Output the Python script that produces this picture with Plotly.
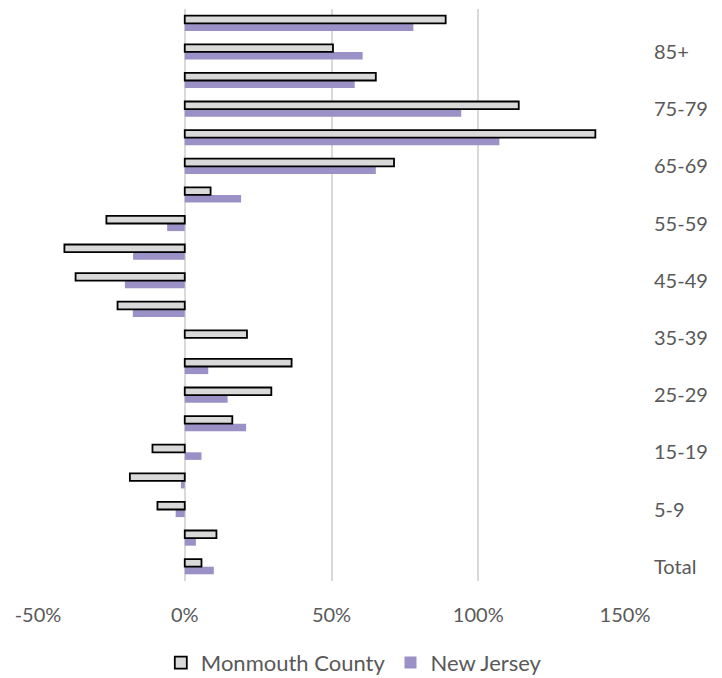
import plotly.graph_objects as go

# Age groups, bottom to top
categories = ["Total", "0-4", "5-9", "10-14", "15-19", "20-24", "25-29", "30-34",
              "35-39", "40-44", "45-49", "50-54", "55-59", "60-64", "65-69",
              "70-74", "75-79", "80-84", "85+", "65+"]

# Projected percent change by age group
monmouth = [5.7, 10.8, -9.3, -18.7, -11.0, 16.2, 29.5, 36.4,
            21.2, -22.9, -37.2, -41.0, -26.7, 8.8, 71.3,
            139.9, 113.8, 65.1, 50.5, 88.9]
new_jersey = [9.9, 3.8, -3.1, -1.3, 5.7, 20.9, 14.6, 8.0,
              0.0, -17.7, -20.4, -17.6, -6.0, 19.2, 65.1,
              107.2, 94.2, 57.9, 60.6, 77.9]

# Only every other category is labelled on the axis
shown_labels = ["Total", "5-9", "15-19", "25-29", "35-39", "45-49",
                "55-59", "65-69", "75-79", "85+"]

x_ticks = [-50, 0, 50, 100, 150]
x_tick_text = ["-50%", "0%", "50%", "100%", "150%"]

font_family = "Lato, 'Open Sans', sans-serif"
text_color = "#595959"

fig = go.Figure()
fig.add_trace(go.Bar(
    y=categories, x=new_jersey, orientation="h", name="New Jersey",
    marker=dict(color="#9B91C7", line=dict(width=0)),
    legendrank=2,
))
fig.add_trace(go.Bar(
    y=categories, x=monmouth, orientation="h", name="Monmouth County",
    marker=dict(color="#D9D9D9", line=dict(color="#000000", width=1.8)),
    legendrank=1,
))

fig.update_layout(
    width=722, height=678,
    margin=dict(l=38, r=97, t=9, b=97, autoexpand=False),
    paper_bgcolor="white", plot_bgcolor="white",
    barmode="group", bargap=0.47, bargroupgap=0.0,
    font=dict(family=font_family, size=20, color=text_color),
    showlegend=True,
    legend=dict(
        orientation="h", x=0.538, xanchor="center", y=-0.143, yanchor="middle",
        font=dict(family=font_family, size=22, color=text_color),
        itemwidth=30, tracegroupgap=0,
    ),
    xaxis=dict(
        range=[-50, 150], tickvals=x_ticks, ticktext=x_tick_text,
        showgrid=True, gridcolor="#D9D9D9", gridwidth=1.5,
        zeroline=False, showline=False,
        ticks="outside", ticklen=16, tickcolor="rgba(0,0,0,0)",
        tickfont=dict(size=20, color=text_color),
    ),
    yaxis=dict(
        categoryorder="array", categoryarray=categories,
        tickvals=shown_labels, ticktext=shown_labels,
        side="right", showgrid=False, zeroline=False, showline=False,
        ticks="outside", ticklen=24, tickcolor="rgba(0,0,0,0)",
        tickfont=dict(size=20, color=text_color),
        range=[-0.5, len(categories) - 0.5],
    ),
)

fig.write_html("out.html")
